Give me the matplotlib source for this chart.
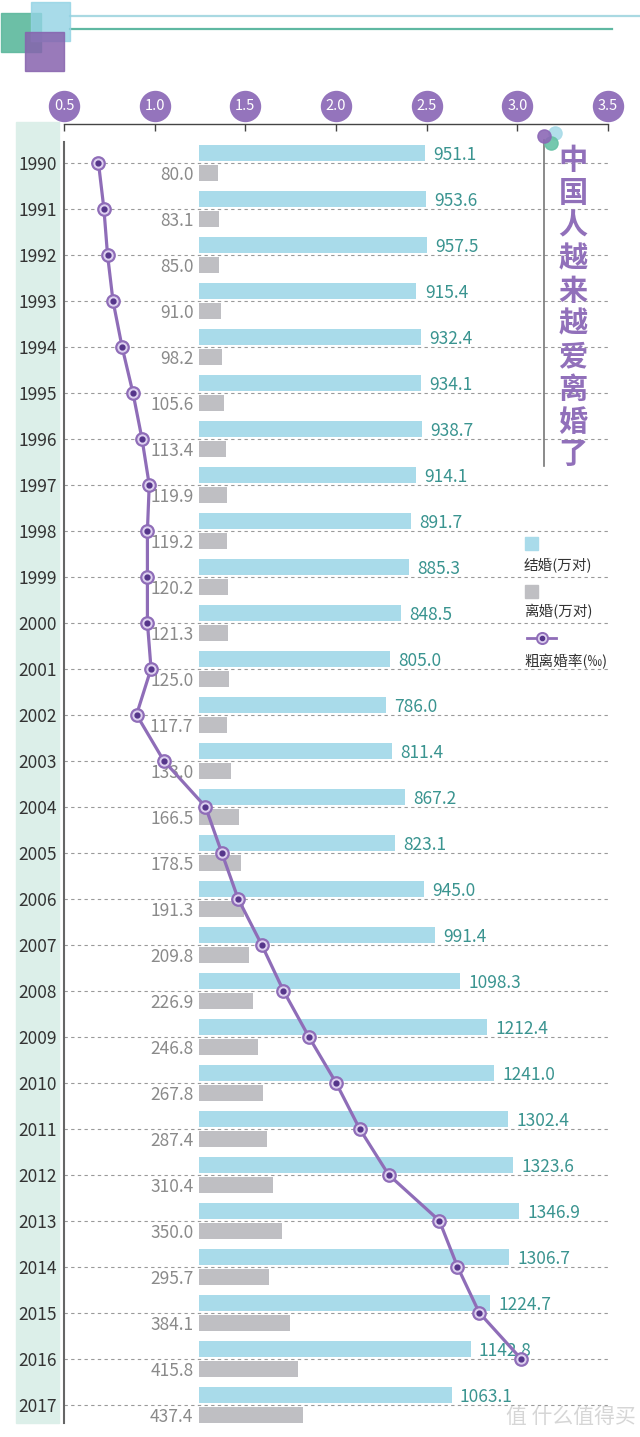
import matplotlib
matplotlib.use("Agg")
import matplotlib.pyplot as plt
import matplotlib.transforms as mtransforms
from matplotlib.patches import Rectangle
from matplotlib.lines import Line2D
import numpy as np

plt.rcParams['font.family'] = ['Noto Sans CJK SC', 'DejaVu Sans']

# 数据
years = list(range(1990, 2018))
marriage = [951.1, 953.6, 957.5, 915.4, 932.4, 934.1, 938.7, 914.1, 891.7, 885.3,
            848.5, 805.0, 786.0, 811.4, 867.2, 823.1, 945.0, 991.4, 1098.3, 1212.4,
            1241.0, 1302.4, 1323.6, 1346.9, 1306.7, 1224.7, 1142.8, 1063.1]
divorce = [80.0, 83.1, 85.0, 91.0, 98.2, 105.6, 113.4, 119.9, 119.2, 120.2,
           121.3, 125.0, 117.7, 133.0, 166.5, 178.5, 191.3, 209.8, 226.9, 246.8,
           267.8, 287.4, 310.4, 350.0, 295.7, 384.1, 415.8, 437.4]
rate = [0.69, 0.72, 0.74, 0.77, 0.82, 0.88, 0.93, 0.97, 0.96, 0.96,
        0.96, 0.98, 0.90, 1.05, 1.28, 1.37, 1.46, 1.59, 1.71, 1.85,
        2.00, 2.13, 2.29, 2.57, 2.67, 2.79, 3.02, np.nan]
rate_ticks = [0.5, 1.0, 1.5, 2.0, 2.5, 3.0, 3.5]
title = "中国人越来越爱离婚了"
legend_labels = ["结婚(万对)", "离婚(万对)", "粗离婚率(‰)"]

W, H = 640, 1437
PURPLE = '#8f6db8'
BLUE = '#a9dbea'
GREY = '#bfbfc3'
TEAL = '#3a9490'

fig = plt.figure(figsize=(W / 100, H / 100), dpi=100)

def fx(px):
    return px / W

def fy(py):
    return 1 - py / H

# 左侧浅绿色背景条（放在坐标轴下面）
fig.patches.append(Rectangle((fx(16), fy(1423)), 43 / W, (1423 - 122) / H,
                             transform=fig.transFigure, color='#dcefe9', zorder=-1))

# 顶部装饰方块和线
fig.patches.append(Rectangle((fx(1), fy(52)), 40 / W, 39 / H, transform=fig.transFigure,
                             color='#5cb89d', alpha=0.9, zorder=1))
fig.patches.append(Rectangle((fx(31), fy(41)), 39 / W, 39 / H, transform=fig.transFigure,
                             color='#93d3e4', alpha=0.8, zorder=2))
fig.patches.append(Rectangle((fx(25), fy(71)), 39 / W, 39 / H, transform=fig.transFigure,
                             color='#8763ae', alpha=0.85, zorder=3))
fig.lines.append(Line2D([fx(70), fx(640)], [fy(16), fy(16)], transform=fig.transFigure,
                        color='#a9d9e2', lw=1.6))
fig.lines.append(Line2D([fx(70), fx(612)], [fy(29), fy(29)], transform=fig.transFigure,
                        color='#5fb8a2', lw=1.6))

# 主坐标轴（离婚率）
ax = fig.add_axes([fx(64), fy(1423), (608 - 64) / W, (1423 - 124) / H])
row0, step = 162.7, 46.0
ax.set_xlim(0.5, 3.5)
ax.set_ylim((1423 - row0) / step, (124 - row0) / step)
ax.patch.set_visible(False)

# 柱状图用的第二个坐标轴，放在下面
bx = ax.twiny()
bx.set_xlim((64 - 199) / 0.2376, (608 - 199) / 0.2376)
bx.set_zorder(ax.get_zorder() - 1)
bx.axis('off')

idx = np.arange(len(years))
bh = 16 / step
bx.barh(idx - 9.5 / step, marriage, height=bh, color=BLUE, zorder=2)
bx.barh(idx + 10.5 / step, divorce, height=bh, color=GREY, zorder=2)
for i in idx:
    bx.annotate(f"{marriage[i]:.1f}", (marriage[i], i - 9.5 / step), xytext=(6, 0),
                textcoords='offset points', ha='left', va='center_baseline',
                fontsize=12.5, color=TEAL, zorder=3)
    bx.annotate(f"{divorce[i]:.1f}", (0, i + 10.5 / step), xytext=(-4, 0),
                textcoords='offset points', ha='right', va='center_baseline',
                fontsize=12.5, color='#8a8a8a', zorder=3)

# 离婚率折线
ax.plot(rate, idx, color=PURPLE, lw=2.3, zorder=5)
ax.plot(rate, idx, 'o', ms=9, mfc='#ddd0ef', mec=PURPLE, mew=1.6, zorder=6)
ax.plot(rate, idx, 'o', ms=3.5, color='#55358a', zorder=7)

# 网格和坐标轴
ax.set_yticks(idx)
ax.set_yticklabels([str(y) for y in years], fontsize=12.5, color='#333333')
ax.tick_params(axis='y', length=0, pad=5)
ax.grid(axis='y', linestyle=(0, (3, 3)), color='#9a9a9a', lw=0.8)
ax.xaxis.tick_top()
ax.set_xticks(rate_ticks)
ax.tick_params(axis='x', direction='in', length=5, width=1, color='#444444', labeltop=False)
for s in ['right', 'bottom']:
    ax.spines[s].set_visible(False)
ax.spines['top'].set_color('#444444')
ax.spines['top'].set_linewidth(1)
ax.spines['left'].set_color('#666666')
ax.spines['left'].set_linewidth(1.5)
ax.spines['left'].set_bounds((1423 - row0) / step, (142 - row0) / step)

# 顶部刻度圆圈
trans = mtransforms.blended_transform_factory(ax.transData, ax.transAxes)
cy = 1 + (124 - 106) / (1423 - 124)
ax.scatter(rate_ticks, [cy] * len(rate_ticks), s=(30 * 0.72) ** 2, color='#9474bc',
           transform=trans, clip_on=False, zorder=8)
for t in rate_ticks:
    ax.text(t, cy, f"{t:.1f}", transform=trans, ha='center', va='center',
            fontsize=10.5, color='white', zorder=9)

# 标题竖线、圆点和竖排标题
fig.lines.append(Line2D([fx(544), fx(544)], [fy(140), fy(466)], transform=fig.transFigure,
                        color='#777777', lw=1.2))
for (cx, cyy, c) in [(555, 133, '#a9dbe8'), (551, 143, '#66c2a5'), (544, 136, '#8c68b6')]:
    fig.lines.append(Line2D([fx(cx)], [fy(cyy)], transform=fig.transFigure, marker='o',
                            ms=9.5, color=c, alpha=0.9, zorder=4))
for i, ch in enumerate(title):
    fig.text(fx(573), fy(160 + 32.7 * i), ch, ha='center', va='center', fontsize=21,
             fontweight='bold', color='#9170ba')

# 图例
fig.patches.append(Rectangle((fx(525), fy(550)), 13 / W, 13 / H, transform=fig.transFigure,
                             color=BLUE))
fig.patches.append(Rectangle((fx(525), fy(598)), 13 / W, 13 / H, transform=fig.transFigure,
                             color=GREY))
fig.lines.append(Line2D([fx(527), fx(556)], [fy(638), fy(638)], transform=fig.transFigure,
                        color=PURPLE, lw=2))
fig.lines.append(Line2D([fx(541.5)], [fy(638)], transform=fig.transFigure, marker='o',
                        ms=8, mfc='#ddd0ef', mec=PURPLE, mew=1.4))
fig.lines.append(Line2D([fx(541.5)], [fy(638)], transform=fig.transFigure, marker='o',
                        ms=3, color='#55358a'))
for lab, yy in zip(legend_labels, [565, 612, 662]):
    fig.text(fx(524), fy(yy), lab, ha='left', va='center', fontsize=10.5, color='#333333')

# 水印
fig.text(fx(636), fy(1417), "值 什么值得买", ha='right', va='center', fontsize=15,
         color='#d6d6d6')

fig.savefig("out.png", dpi=100)
